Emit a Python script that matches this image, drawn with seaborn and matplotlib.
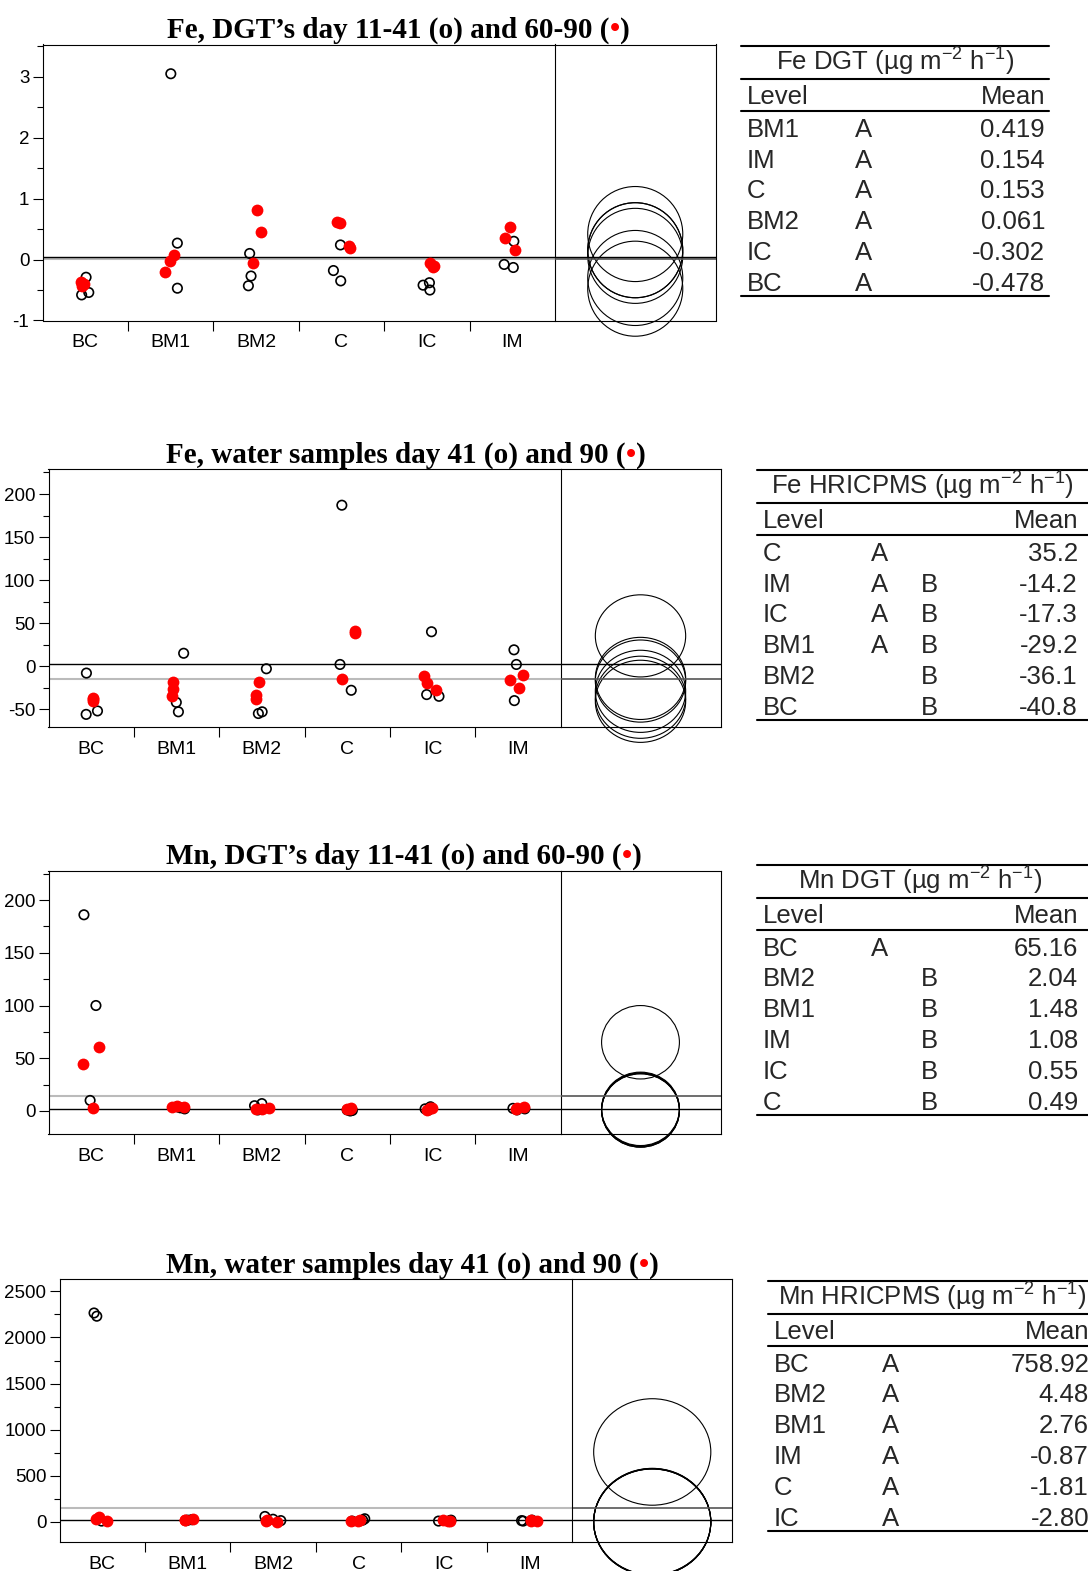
import numpy as np
import pandas as pd
import matplotlib
matplotlib.use("Agg")
import matplotlib.pyplot as plt
from matplotlib.patches import Ellipse
from matplotlib.lines import Line2D
from matplotlib.ticker import MultipleLocator
import seaborn as sns

W, H = 1088, 1571

groups = ["BC", "BM1", "BM2", "C", "IC", "IM"]

# ---- Fe DGT (day 11-41 open, day 60-90 red)
fe_dgt_early = [[-0.29, -0.54, -0.58], [3.05, 0.27, -0.47], [0.10, -0.27, -0.43],
                [0.24, -0.18, -0.35], [-0.38, -0.42, -0.50], [0.30, -0.08, -0.13]]
fe_dgt_late = [[-0.37, -0.40, -0.43], [0.08, -0.03, -0.21], [0.82, 0.45, -0.05],
               [0.62, 0.60, 0.22, 0.19], [-0.05, -0.11, -0.13], [0.54, 0.35, 0.15]]
fe_dgt_levels = ["BM1", "IM", "C", "BM2", "IC", "BC"]
fe_dgt_letters = [["A", ""]] * 6
fe_dgt_means = ["0.419", "0.154", "0.153", "0.061", "-0.302", "-0.478"]
fe_dgt_radius = 0.78
fe_dgt_lines = [0.038, 0.016]   # black, gray

# ---- Fe water samples (day 41 open, day 90 red)
fe_w_early = [[-8, -52, -56], [15, -42, -53], [-3, -53, -55],
              [187, 2, -28], [40, -33, -35], [19, 2, -40]]
fe_w_late = [[-40, -37, -38], [-18, -27, -35], [-18, -38, -33],
             [38, 41, -15], [-11, -20, -28], [-10, -16, -25]]
fe_w_levels = ["C", "IM", "IC", "BM1", "BM2", "BC"]
fe_w_letters = [["A", ""], ["A", "B"], ["A", "B"], ["A", "B"], ["", "B"], ["", "B"]]
fe_w_means = ["35.2", "-14.2", "-17.3", "-29.2", "-36.1", "-40.8"]
fe_w_radius = 47.7
fe_w_lines = [2.0, -14.7]

# ---- Mn DGT
mn_dgt_early = [[186, 100, 10], [3, 2, 4], [7, 5, 1],
                [1, 0, 0.5], [4, 2, 1], [2, 2.5, 1]]
mn_dgt_late = [[61, 45, 3], [4, 3.5, 4.5], [3, 2, 1.5],
               [2.5, 2, 1.5], [1, 2.5, 3], [3, 2, 4]]
mn_dgt_levels = ["BC", "BM2", "BM1", "IM", "IC", "C"]
mn_dgt_letters = [["A", ""], ["", "B"], ["", "B"], ["", "B"], ["", "B"], ["", "B"]]
mn_dgt_means = ["65.16", "2.04", "1.48", "1.08", "0.55", "0.49"]
mn_dgt_radius = 34.8
mn_dgt_lines = [1.6, 13.9]

# ---- Mn water samples
mn_w_early = [[2230, 2265, 10], [25, 15, 20], [60, 30, 15],
              [35, 20, 10], [20, 15, 10], [20, 15, 10]]
mn_w_late = [[55, 30, 10], [35, 25, 20], [25, 10, 5],
             [20, 15, 10], [20, 15, 10], [20, 15, 10]]
mn_w_levels = ["BC", "BM2", "BM1", "IM", "C", "IC"]
mn_w_letters = [["A", ""]] * 6
mn_w_means = ["758.92", "4.48", "2.76", "-0.87", "-1.81", "-2.80"]
mn_w_radius = 577
mn_w_lines = [18, 150]

sns.set_style("ticks")
plt.rcParams["font.family"] = ["Liberation Sans", "DejaVu Sans"]
plt.rcParams["axes.unicode_minus"] = False
plt.rcParams["mathtext.default"] = "regular"

fig = plt.figure(figsize=(W / 100, H / 100), dpi=100)
fig.patch.set_facecolor("white")
renderer = fig.canvas.get_renderer()


def px_axes(x0, y0, x1, y1):
    return fig.add_axes([x0 / W, 1 - y1 / H, (x1 - x0) / W, (y1 - y0) / H])


def long_df(vals):
    rows = [(g, v) for g, vs in zip(groups, vals) for v in vs]
    return pd.DataFrame(rows, columns=["group", "value"])


def draw_title(x, yb, pieces):
    serif = dict(family=["Liberation Serif", "DejaVu Serif"], fontweight="bold", fontsize=21, va="baseline")
    for txt, col in pieces:
        t = fig.text(x / W, 1 - yb / H, txt, color=col, ha="left", **serif)
        x = t.get_window_extent(renderer).x1


def draw_panel(early, late, levels, mean_strs, radius, lines, ylim, major, minor,
               box, stretch, title, title_pos, seed):
    x0, xd, x1, y0, y1 = box
    ax = px_axes(x0, y0, xd, y1)
    cax = px_axes(xd, y0, x1, y1)
    cax.patch.set_visible(False)

    np.random.seed(seed)
    sns.stripplot(data=long_df(early), x="group", y="value", order=groups, jitter=0.1,
                  color="black", facecolor="none", edgecolor="black", linewidth=1.2,
                  size=6.8, ax=ax, zorder=3)
    sns.stripplot(data=long_df(late), x="group", y="value", order=groups, jitter=0.1,
                  color="red", edgecolor="red", linewidth=0, size=8.5, ax=ax, zorder=4)

    black_v, gray_v = lines
    ax.axhline(gray_v, color="#bbbbbb", lw=1.5, zorder=2)
    ax.axhline(black_v, color="black", lw=1.0, zorder=2)
    cax.axhline(gray_v, color="#555555", lw=1.2)
    cax.axhline(black_v, color="black", lw=1.0)

    ax.set_xlim(-0.5, 5.5)
    ax.set_ylim(*ylim)
    ax.set_xlabel("")
    ax.set_ylabel("")
    ax.set_xticks(range(len(groups)))
    ax.set_xticklabels(groups)
    ax.set_xticks(np.arange(0.5, len(groups) - 1, 1), minor=True)
    ax.yaxis.set_major_locator(MultipleLocator(major))
    ax.yaxis.set_minor_locator(MultipleLocator(minor))
    ax.tick_params(axis="x", which="major", length=0, pad=10, labelsize=14, labelcolor="black")
    ax.tick_params(axis="x", which="minor", length=7.2, width=0.8, direction="out", color="black")
    ax.tick_params(axis="y", which="major", length=7, width=0.8, pad=2.5, labelsize=13.5,
                   labelcolor="black", color="black")
    ax.tick_params(axis="y", which="minor", length=4.5, width=0.8, color="black")
    for sp in ax.spines.values():
        sp.set_visible(True)
        sp.set_linewidth(0.8)
        sp.set_color("black")

    cax.set_xlim(0, 1)
    cax.set_ylim(*ylim)
    cax.set_xticks([])
    cax.set_yticks([])
    for name, sp in cax.spines.items():
        sp.set_visible(name != "left")
        sp.set_linewidth(0.8)
        sp.set_color("black")

    ppu = (y1 - y0) / (ylim[1] - ylim[0])
    cw = x1 - xd
    lookup = dict(zip(levels, [float(m) for m in mean_strs]))
    for g in groups:
        m = lookup[g]
        e = Ellipse((0.5, m), 2 * radius * ppu * stretch / cw, 2 * radius,
                    fill=False, lw=0.8, ec="black", clip_on=False)
        cax.add_patch(e)

    draw_title(title_pos[0], title_pos[1], title)


def hline(x0, x1, y, lw=1.5):
    fig.add_artist(Line2D([x0 / W, x1 / W], [1 - y / H, 1 - y / H],
                          transform=fig.transFigure, color="black", lw=lw))


def draw_table(left, right, top, mean_x, title_cx, title, levels, letters, means):
    fs = 18.5
    hline(left, right, top)
    fig.text(title_cx / W, 1 - (top + 24.7) / H, title, ha="center", va="baseline", fontsize=fs)
    hline(left, right, top + 33.3)
    fig.text((left + 6) / W, 1 - (top + 58) / H, "Level", ha="left", va="baseline", fontsize=fs)
    fig.text(mean_x / W, 1 - (top + 58) / H, "Mean", ha="right", va="baseline", fontsize=fs)
    hline(left, right, top + 64.7)
    for i, (lv, lt, mn) in enumerate(zip(levels, letters, means)):
        yb = 1 - (top + 90.7 + 30.8 * i) / H
        fig.text((left + 6) / W, yb, lv, ha="left", va="baseline", fontsize=fs)
        fig.text((left + 123) / W, yb, lt[0], ha="center", va="baseline", fontsize=fs)
        fig.text((left + 172) / W, yb, lt[1], ha="center", va="baseline", fontsize=fs)
        fig.text(mean_x / W, yb, mn, ha="right", va="baseline", fontsize=fs)
    hline(left, right, top + 249.7)


unit = " (µg m$^{-2}$ h$^{-1}$)"

draw_panel(fe_dgt_early, fe_dgt_late, fe_dgt_levels, fe_dgt_means, fe_dgt_radius, fe_dgt_lines,
           (-1.0, 3.53), 1, 0.5, (42.5, 555, 715.5, 44.5, 320.5), 1.0,
           [("Fe, DGT’s day 11-41 (o) and 60-90 (", "black"), ("•", "red"), (")", "black")],
           (167, 37.3), 3)
draw_table(741, 1049, 46, 1045, 895, "Fe DGT" + unit, fe_dgt_levels, fe_dgt_letters, fe_dgt_means)

draw_panel(fe_w_early, fe_w_late, fe_w_levels, fe_w_means, fe_w_radius, fe_w_lines,
           (-71, 228.7), 50, 25, (48.5, 560.5, 720.5, 469.3, 727.3), 1.1,
           [("Fe, water samples day 41 (o) and 90 (", "black"), ("•", "red"), (")", "black")],
           (166, 463), 5)
draw_table(757, 1088, 470, 1078, 922, "Fe HRICPMS" + unit, fe_w_levels, fe_w_letters, fe_w_means)

draw_panel(mn_dgt_early, mn_dgt_late, mn_dgt_levels, mn_dgt_means, mn_dgt_radius, mn_dgt_lines,
           (-22.1, 227.8), 50, 25, (48.5, 560.5, 720.5, 870.7, 1134.3), 1.06,
           [("Mn, DGT’s day 11-41 (o) and 60-90 (", "black"), ("•", "red"), (")", "black")],
           (166, 864), 7)
draw_table(757, 1088, 865, 1078, 920, "Mn DGT" + unit, mn_dgt_levels, mn_dgt_letters, mn_dgt_means)

draw_panel(mn_w_early, mn_w_late, mn_w_levels, mn_w_means, mn_w_radius, mn_w_lines,
           (-220, 2630), 500, 250, (59.5, 572.5, 732, 1279.3, 1542.3), 1.1,
           [("Mn, water samples day 41 (o) and 90 (", "black"), ("•", "red"), (")", "black")],
           (166, 1273), 11)
draw_table(768, 1100, 1281, 1089, 932, "Mn HRICPMS" + unit, mn_w_levels, mn_w_letters, mn_w_means)

fig.savefig("out.png", dpi=100)
